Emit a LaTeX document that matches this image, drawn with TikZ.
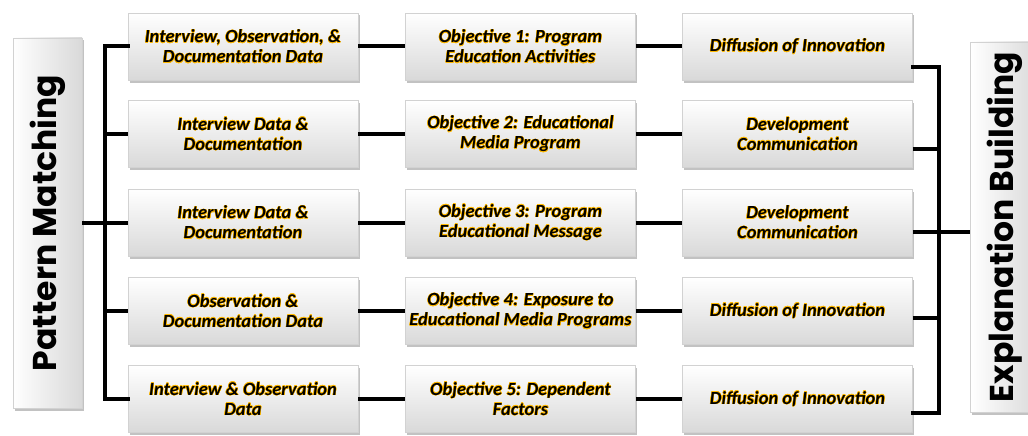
\documentclass[tikz,border=0pt]{standalone}
\usepackage{fontspec}
\setmainfont{Carlito}
\newfontfamily\bigfont{Poppins}
\usepackage{contour}
\contourlength{0.35pt}
\usetikzlibrary{shadows}
\newcommand\gl[1]{\contour{orange!55!yellow}{#1}}
\tikzset{
  box/.style={rectangle, minimum width=230pt, minimum height=67pt, inner sep=2pt,
    top color=white, bottom color=gray!30, draw=gray!35, line width=0.6pt,
    drop shadow={shadow xshift=1.5pt, shadow yshift=-2.5pt, opacity=0.4, fill=gray!80!black},
    font=\fontsize{18.5}{20}\selectfont\bfseries\itshape, align=center},
  side/.style={rectangle, minimum width=370pt, minimum height=69pt, inner sep=0pt,
    left color=white, right color=gray!30, draw=gray!35, line width=0.6pt,
    drop shadow={shadow xshift=1.5pt, shadow yshift=-2.5pt, opacity=0.4, fill=gray!80!black},
    font=\fontsize{33}{36}\bigfont\bfseries, rotate=90},
  conn/.style={line width=4pt, black}
}
\begin{document}
\begin{tikzpicture}[x=1pt,y=-1pt]
\useasboundingbox (0,0) rectangle (1028,436);
% side boxes
\node[side] (pm) at (47.5,223) {Pattern Matching};
\node[side] (eb) at (1005,227) {Explanation Building};
% rows
\node[box] (a1) at (243,46.5) {\gl{Interview, Observation, \&}\\\gl{Documentation Data}};
\node[box] (b1) at (520.5,46.5) {\gl{Objective 1: Program}\\\gl{Education Activities}};
\node[box] (c1) at (797.5,46.5) {\gl{Diffusion of Innovation}};
\node[box] (a2) at (243,134) {\gl{Interview Data \&}\\\gl{Documentation}};
\node[box] (b2) at (520.5,134) {\gl{Objective 2: Educational}\\\gl{Media Program}};
\node[box] (c2) at (797.5,134) {\gl{Development}\\\gl{Communication}};
\node[box] (a3) at (243,222.5) {\gl{Interview Data \&}\\\gl{Documentation}};
\node[box] (b3) at (520.5,222.5) {\gl{Objective 3: Program}\\\gl{Educational Message}};
\node[box] (c3) at (797.5,222.5) {\gl{Development}\\\gl{Communication}};
\node[box] (a4) at (243,311) {\gl{Observation \&}\\\gl{Documentation Data}};
\node[box] (b4) at (520.5,311) {\gl{Objective 4: Exposure to}\\\gl{Educational Media Programs}};
\node[box] (c4) at (797.5,311) {\gl{Diffusion of Innovation}};
\node[box] (a5) at (243,399) {\gl{Interview \& Observation}\\\gl{Data}};
\node[box] (b5) at (520.5,399) {\gl{Objective 5: Dependent}\\\gl{Factors}};
\node[box] (c5) at (797.5,399) {\gl{Diffusion of Innovation}};
% buses
\coordinate (busL) at (105,223);
\coordinate (busR) at (939,232);
\draw[conn] (pm.south |- busL) -- (busL);
\draw[conn, line cap=rect] (a1.west) -| (busL) |- (a5.west);
\foreach \r in {2,3,4} {\draw[conn] (a\r.west) -- (a\r.west -| busL);}
\foreach \r in {1,...,5} {
  \draw[conn] (a\r.east) -- (b\r.west);
  \draw[conn] (b\r.east) -- (c\r.west);
}
\draw[conn, line cap=rect] ([yshift=-20.5pt]c1.east) -| (busR) |- ([yshift=-14pt]c5.east);
\draw[conn] ([yshift=-15pt]c2.east) -- ([yshift=-15pt]c2.east -| busR);
\draw[conn] ([yshift=-9.5pt]c3.east) -- (busR) -- (eb.north |- busR);
\draw[conn] ([yshift=-7pt]c4.east) -- ([yshift=-7pt]c4.east -| busR);
\end{tikzpicture}
\end{document}
